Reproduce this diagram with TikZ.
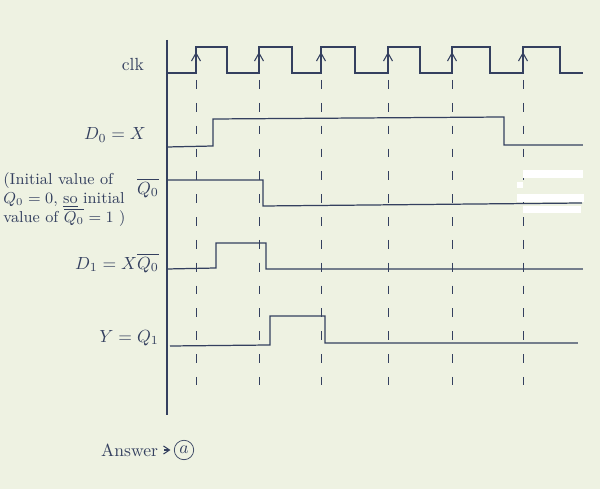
\documentclass[tikz,border=0pt]{standalone}
\usepackage{amsmath,amssymb}
\usetikzlibrary{arrows.meta,positioning}
\definecolor{Paper}{HTML}{EEF2E2}
\definecolor{Ink}{HTML}{34405F}
\tikzset{
  wave/.style={draw=Ink,line width=.7pt,line join=miter},
  axis/.style={draw=Ink,line width=.7pt},
  tickline/.style={draw=Ink,line width=.5pt,dash pattern=on 5pt off 8pt},
  edgemark/.style={-{Straight Barb[length=1.6mm,width=1.8mm]},draw=Ink,line width=.6pt},
  pointer/.style={-{Straight Barb[length=1.2mm,width=1.6mm]},draw=Ink,line width=.6pt,shorten >=2pt},
  sig/.style={text=Ink,font=\normalsize,anchor=east},
  note/.style={text=Ink,font=\small,align=left,anchor=north west,inner sep=0pt},
  mask/.style={fill=white,draw=none}
}
\begin{document}
\begin{tikzpicture}[x=0.02cm,y=-0.02cm]
  \fill[Paper] (0,0) rectangle (600,489);
  \draw[axis] (167,40) -- (167,415);
  % clock
  \draw[wave] (167,73) foreach \r/\f in {196/227,259/292,321/355,388/420,452/490,523/560}
    { -- (\r,73) -- (\r,47) -- (\f,47) -- (\f,73) } -- (583,73);
  \foreach \r in {196,259,321,388,452,523}
    \draw[edgemark] (\r,64) -- (\r,52);
  \foreach \r in {196,259,321,388,452,523}
    \draw[tickline] (\r,80) -- (\r,385);
  % signals
  \draw[wave] (167,147) -- (213,146) -- (213,119) -- (504,117) -- (504,145) -- (583,145);
  \draw[wave] (167,180) -- (263,180) -- (263,206) -- (582,203);
  \draw[wave] (167,269) -- (216,268) -- (216,243) -- (266,243) -- (266,269) -- (583,269);
  \draw[wave] (170,346) -- (270,345) -- (270,316) -- (325,316) -- (325,343) -- (578,343);
  % erased bits
  \fill[mask] (523,170) rectangle (583,178);
  \fill[mask] (517,182) rectangle (523,188);
  \fill[mask] (517,194) rectangle (584,202);
  \fill[mask] (523,206) rectangle (581,213);
  % labels
  \node[sig] (clk) at (150,65) {clk};
  \node[sig] (d0) at (152,135) {$D_0 = X$};
  \node[sig] (q0n) at (165,188) {$\overline{Q_0}$};
  \node[note] (init) at (3,172) {(Initial value of\\ $Q_0 = 0$, \underline{so} initial\\ value of $\overline{Q_0} = 1$ )};
  \node[sig] (d1) at (165,263) {$D_1 = X\overline{Q_0}$};
  \node[sig] (y) at (165,338) {$Y = Q_1$};
  \node[text=Ink,anchor=west] (answer) at (95,450) {Answer};
  \node[draw=Ink,circle,inner sep=1.5pt,text=Ink] (opt) at (184,450) {$a$};
  \draw[pointer] (answer) -- (opt);
\end{tikzpicture}
\end{document}
